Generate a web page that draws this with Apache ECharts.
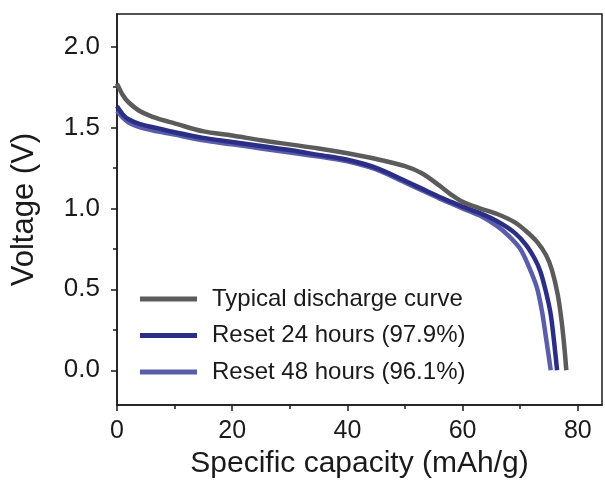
<!DOCTYPE html>
<html>
<head>
<meta charset="utf-8">
<script src="https://cdn.jsdelivr.net/npm/echarts@6/dist/echarts.min.js"></script>
<style>html,body{margin:0;padding:0;background:#fff}#c{width:605px;height:484px}</style>
</head>
<body>
<div id="c"></div>
<script>
// ---- data ----
const seriesNames = ["Typical discharge curve", "Reset 24 hours (97.9%)", "Reset 48 hours (96.1%)"];
const typicalX = [0,1,2,4,7,10,15,20,25,30,35,40,45,50,53,56,58,60,63,66,69,71,73,74.5,75.5,76.5,77.2,77.7,78];
const typicalV = [1.77,1.70,1.655,1.60,1.555,1.525,1.475,1.45,1.42,1.395,1.37,1.34,1.305,1.26,1.215,1.14,1.085,1.04,1.0,0.965,0.915,0.86,0.79,0.71,0.62,0.47,0.30,0.13,0.0];
const reset24X = [0,1,2,4,7,10,15,20,25,30,35,40,45,50,53,56,58,60,63,66,69,71,72.5,73.5,74.5,75.3,75.9,76.4];
const reset24V = [1.63,1.58,1.55,1.52,1.495,1.47,1.435,1.41,1.385,1.36,1.33,1.30,1.25,1.17,1.12,1.07,1.04,1.01,0.97,0.92,0.85,0.775,0.69,0.61,0.48,0.345,0.17,0.0];
const reset48X = [0,1,2,4,7,10,15,20,25,30,35,40,45,50,53,56,58,60,63,66,68,70,71.5,72.9,73.8,74.4,74.9,75.3];
const reset48V = [1.60,1.56,1.53,1.50,1.475,1.455,1.42,1.395,1.37,1.345,1.32,1.29,1.24,1.16,1.11,1.06,1.03,1.00,0.955,0.89,0.83,0.75,0.64,0.51,0.36,0.22,0.10,0.0];
const xTicks = [0,20,40,60,80];
const xMinorTicks = [10,30,50,70];
const yTicks = [0,0.5,1.0,1.5,2.0];
const yMinorTicks = [0.25,0.75,1.25,1.75];

const colors = ['#5b5b5b', '#2b2e86', '#5a5daa'];
const zip = (xs, ys) => xs.map((x, i) => [x, ys[i]]);
const font = 'Liberation Sans, Arial, sans-serif';

const chart = echarts.init(document.getElementById('c'), null, {renderer: 'canvas'});
const axisLineStyle = {color: '#1a1a1a', width: 1.5};
const xRange = {min: 0, max: 84.2};
const yRange = {min: -0.215, max: 2.2};

chart.setOption({
  backgroundColor: '#fff',
  animation: false,
  grid: {left: 117, right: 3, top: 14, bottom: 76, show: true, borderColor: '#1a1a1a', borderWidth: 1.5},
  xAxis: [
    Object.assign({type: 'value', position: 'bottom',
      name: 'Specific capacity (mAh/g)', nameLocation: 'middle', nameGap: 41,
      nameTextStyle: {fontSize: 30, color: '#1a1a1a', fontFamily: font},
      axisLine: {show: true, onZero: false, lineStyle: axisLineStyle},
      axisTick: {show: true, customValues: xTicks, length: 6, inside: false, lineStyle: axisLineStyle},
      axisLabel: {customValues: xTicks, fontSize: 25, color: '#1a1a1a', fontFamily: font, margin: 14},
      splitLine: {show: false}}, xRange),
    Object.assign({type: 'value', position: 'bottom',
      axisLine: {show: false, onZero: false},
      axisTick: {show: true, customValues: xMinorTicks, length: 4, lineStyle: axisLineStyle},
      axisLabel: {show: false},
      splitLine: {show: false}}, xRange)
  ],
  yAxis: [
    Object.assign({type: 'value', position: 'left',
      name: 'Voltage (V)', nameLocation: 'middle', nameGap: 77, nameRotate: 90,
      nameTextStyle: {fontSize: 31, color: '#1a1a1a', fontFamily: font},
      axisLine: {show: true, onZero: false, lineStyle: axisLineStyle},
      axisTick: {show: true, customValues: yTicks, length: 6, lineStyle: axisLineStyle},
      axisLabel: {customValues: yTicks, fontSize: 26, color: '#1a1a1a', fontFamily: font, margin: 17,
        formatter: v => Number(v).toFixed(1)},
      splitLine: {show: false}}, yRange),
    Object.assign({type: 'value', position: 'left',
      axisLine: {show: false, onZero: false},
      axisTick: {show: true, customValues: yMinorTicks, length: 4, lineStyle: axisLineStyle},
      axisLabel: {show: false},
      splitLine: {show: false}}, yRange)
  ],
  legend: {
    orient: 'vertical', left: 135, top: 282, itemWidth: 57, itemHeight: 5, itemGap: 12.5,
    icon: 'rect',
    textStyle: {fontSize: 24, color: '#1a1a1a', fontFamily: font, padding: [0, 0, 0, 10]},
    data: [seriesNames[0], seriesNames[1], seriesNames[2]]
  },
  series: [
    {name: seriesNames[2], type: 'line', data: zip(reset48X, reset48V), smooth: 0.3, symbol: 'none',
      lineStyle: {color: colors[2], width: 4.5}, itemStyle: {color: colors[2]}},
    {name: seriesNames[1], type: 'line', data: zip(reset24X, reset24V), smooth: 0.3, symbol: 'none',
      lineStyle: {color: colors[1], width: 4.5}, itemStyle: {color: colors[1]}},
    {name: seriesNames[0], type: 'line', data: zip(typicalX, typicalV), smooth: 0.3, symbol: 'none',
      lineStyle: {color: colors[0], width: 4.5}, itemStyle: {color: colors[0]}}
  ]
});
</script>
</body>
</html>
